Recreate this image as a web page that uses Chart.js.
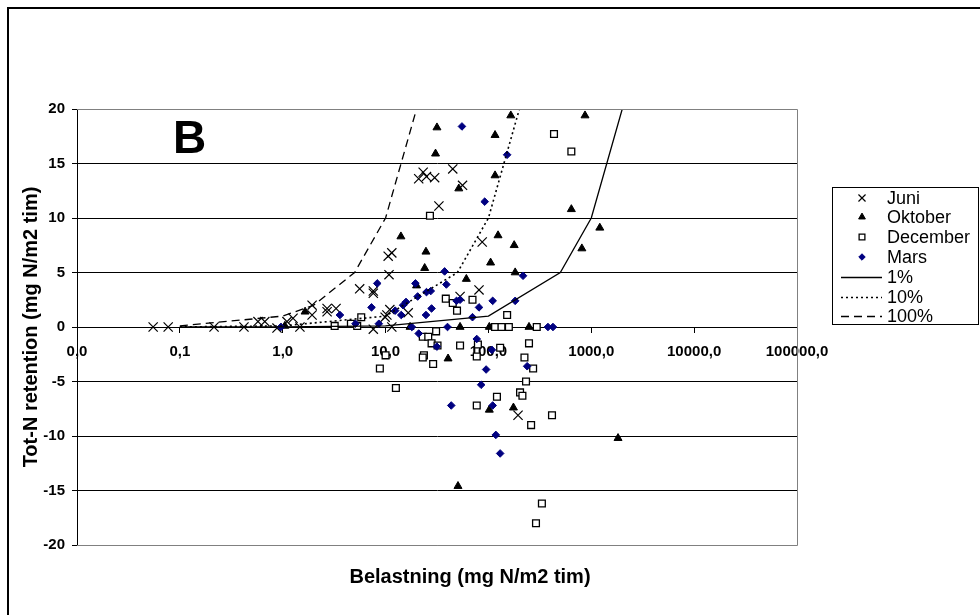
<!DOCTYPE html>
<html>
<head>
<meta charset="utf-8">
<script src="https://cdn.jsdelivr.net/npm/chart.js@4.4.1/dist/chart.umd.min.js"></script>
<style>
  html, body { margin: 0; padding: 0; background: #fff; }
</style>
</head>
<body>
<canvas id="retentionChart" width="980" height="615"></canvas>
<script>
// x axis ticks (log scale, decimal comma as in the original)
const xTickValues = [0.01, 0.1, 1, 10, 100, 1000, 10000, 100000];
const xTickLabels = ['0,0', '0,1', '1,0', '10,0', '100,0', '1000,0', '10000,0', '100000,0'];

// Juni
const juniX = [0.055, 0.077, 0.215, 0.42, 0.575, 0.67, 0.88, 1.1, 1.26, 1.47, 1.93, 1.93, 2.7, 2.7, 3.3, 5.6, 7.6, 7.6, 7.6, 9.9,
  10.3, 11.0, 11.5, 10.6, 11.5, 10.8, 16.6, 21, 23.2, 25, 30, 33, 45, 56, 53, 81, 87, 194];
const juniY = [0, 0, 0, 0, 0.5, 0.5, -0.1, 0.5, 0.8, 0, 1.1, 2.0, 1.4, 1.7, 1.7, 3.5, 3.1, 3.3, -0.2, 0.9,
  1.1, 1.6, 0, 6.5, 6.8, 4.8, 1.3, 13.6, 14.2, 13.8, 13.7, 11.1, 14.5, 13.0, 2.8, 3.4, 7.8, -8.1];

// Oktober
const oktoberX = [1.05, 1.65, 14.1, 17.3, 20, 24, 24.7, 30.6, 31.6, 40.5, 50.6, 51.5, 53, 61, 102, 102, 105, 116, 116, 124,
  165, 175, 178, 182, 248, 640, 810, 869, 1210, 1820];
const oktoberY = [0.1, 1.4, 8.3, 0, 3.8, 5.4, 6.9, 15.9, 18.3, -2.9, -14.6, 12.7, 0, 4.4, 0, -7.6, 5.9, 17.6, 13.9, 8.4,
  19.4, -7.4, 7.5, 5.0, 0, 10.8, 7.2, 19.4, 9.1, -10.2];

// December
const decemberX = [3.2, 4.6, 5.3, 5.8, 8.8, 10, 12.6, 23, 26, 28, 23.6, 23, 27, 29, 31, 32, 38.5, 45, 49.5, 53,
  70, 77, 77, 79, 116, 121, 130, 134, 152, 158, 203, 214, 224, 232, 248, 260, 272, 290, 295, 331, 415, 434, 640];
const decemberY = [0.1, 0.3, 0.1, 0.9, -3.8, -2.6, -5.6, -0.9, -0.9, -1.5, -2.6, -2.8, 10.2, -3.4, -0.4, -1.7, 2.6, 2.2, 1.5, -1.7,
  2.5, -2.7, -7.2, -1.6, 0, -6.4, -1.9, 0, 1.1, 0, -6.0, -6.3, -2.8, -5.0, -1.5, -9.0, -3.8, -18.0, 0, -16.2, -8.1, 17.7, 16.1];

// Mars
const marsX = [0.96, 3.6, 5.1, 7.3, 8.3, 8.6, 12.4, 14.2, 14.8, 15.8, 18, 19.5, 20.5, 21, 24.7, 25, 27.5, 28, 31.5, 37.5,
  39, 40, 43.5, 49, 53, 55.3, 70, 77, 81, 85, 92, 95, 108, 110, 110, 118, 130, 152, 182, 217, 238, 379, 424];
const marsY = [0, 1.1, 0.3, 1.8, 4.0, 0.3, 1.5, 1.1, 2.0, 2.3, 0, 4.0, 2.8, -0.6, 1.1, 3.2, 3.3, 1.7, -1.8, 5.1,
  3.9, 0, -7.2, 2.4, 2.5, 18.4, 0.9, -1.1, 1.8, -5.3, 11.5, -3.9, -2.1, 2.4, -7.2, -9.9, -11.6, 15.8, 2.4, 4.7, -3.6, 0, 0];

// reference lines: 1%, 10% and 100% retention
const pct1X = [0.1, 1, 10, 100, 500, 1000, 2000];
const pct1Y = [0.001, 0.01, 0.1, 1, 5, 10, 20];
const pct10X = [0.1, 1, 10, 50, 100, 200];
const pct10Y = [0.01, 0.1, 1, 5, 10, 20];
const pct100X = [0.1, 1, 2, 5, 10, 20];
const pct100Y = [0.1, 1, 2, 5, 10, 20];

function pts(xs, ys) {
  return xs.map((v, i) => ({ x: v, y: ys[i] }));
}

const datasets = [
  { label: 'Juni', data: pts(juniX, juniY), pointStyle: 'crossRot', pointRadius: 6.5,
    borderColor: '#000', backgroundColor: '#000', borderWidth: 1.2, order: 6 },
  { label: 'Oktober', data: pts(oktoberX, oktoberY), pointStyle: 'triangle', pointRadius: 4.6,
    borderColor: '#000', backgroundColor: '#000', borderWidth: 1, order: 5 },
  { label: 'December', data: pts(decemberX, decemberY), pointStyle: 'rect', pointRadius: 4.8,
    borderColor: '#000', backgroundColor: '#fff', borderWidth: 1.3, order: 4 },
  { label: 'Mars', data: pts(marsX, marsY), pointStyle: 'rectRot', pointRadius: 3.8,
    borderColor: '#000080', backgroundColor: '#000080', borderWidth: 1, order: 3 },
  { type: 'line', label: '1%', data: pts(pct1X, pct1Y), showLine: true, pointRadius: 0,
    borderColor: '#000', borderWidth: 1.3, borderDash: [], fill: false, order: 2 },
  { type: 'line', label: '10%', data: pts(pct10X, pct10Y), showLine: true, pointRadius: 0,
    borderColor: '#000', borderWidth: 1.6, borderDash: [2, 3], fill: false, order: 1 },
  { type: 'line', label: '100%', data: pts(pct100X, pct100Y), showLine: true, pointRadius: 0,
    borderColor: '#000', borderWidth: 1.3, borderDash: [8, 5], fill: false, order: 0 }
];

const FONT = "'Liberation Sans', Arial, sans-serif";

// frame, panel letter, x title, legend box
const decorations = {
  id: 'decorations',
  beforeDraw(chart) {
    const ctx = chart.ctx;
    ctx.save();
    ctx.fillStyle = '#fff';
    ctx.fillRect(0, 0, chart.width, chart.height);
    ctx.restore();
  },
  afterDraw(chart) {
    const ctx = chart.ctx;
    const a = chart.chartArea;
    ctx.save();

    // plot area border (grey) on top, right and bottom
    ctx.strokeStyle = '#808080';
    ctx.lineWidth = 1;
    ctx.beginPath();
    ctx.moveTo(a.left, a.top + 0.5);
    ctx.lineTo(a.right + 0.5, a.top + 0.5);
    ctx.lineTo(a.right + 0.5, a.bottom + 0.5);
    ctx.lineTo(a.left, a.bottom + 0.5);
    ctx.stroke();

    // outer frame
    ctx.strokeStyle = '#000';
    ctx.lineWidth = 2;
    ctx.beginPath();
    ctx.moveTo(8, chart.height);
    ctx.lineTo(8, 8);
    ctx.lineTo(chart.width, 8);
    ctx.stroke();

    // panel letter
    ctx.fillStyle = '#000';
    ctx.font = 'bold 46px ' + FONT;
    ctx.textAlign = 'left';
    ctx.textBaseline = 'alphabetic';
    ctx.fillText('B', 173, 153);

    // x axis title
    ctx.font = 'bold 20px ' + FONT;
    ctx.textAlign = 'center';
    ctx.fillText('Belastning (mg N/m2 tim)', 470, 583);

    // legend
    const lx = 832, ly = 187, lw = 147, lh = 138;
    ctx.fillStyle = '#fff';
    ctx.fillRect(lx, ly, lw, lh);
    ctx.strokeStyle = '#000';
    ctx.lineWidth = 1;
    ctx.strokeRect(lx + 0.5, ly + 0.5, lw - 1, lh - 1);

    const rowY = [198, 217, 237, 257, 277, 297, 316];
    ctx.font = '18px ' + FONT;
    ctx.textAlign = 'left';
    ctx.textBaseline = 'middle';
    datasets.forEach((ds, i) => {
      const y = rowY[i];
      ctx.save();
      ctx.strokeStyle = ds.borderColor;
      ctx.fillStyle = ds.backgroundColor;
      ctx.lineWidth = ds.borderWidth;
      if (ds.type === 'line') {
        ctx.setLineDash(ds.borderDash);
        ctx.beginPath();
        ctx.moveTo(841, y + 0.5);
        ctx.lineTo(882, y + 0.5);
        ctx.stroke();
      } else {
        const r = ds.pointStyle === 'crossRot' ? 5 : ds.pointRadius * 0.85;
        Chart.helpers.drawPoint(ctx, { pointStyle: ds.pointStyle, radius: r, rotation: 0, borderWidth: ds.borderWidth }, 862, y);
      }
      ctx.restore();
      ctx.fillStyle = '#000';
      ctx.fillText(ds.label, 887, y + 1);
    });

    ctx.restore();
  }
};

new Chart(document.getElementById('retentionChart'), {
  type: 'scatter',
  data: { datasets: datasets },
  options: {
    responsive: false,
    animation: false,
    events: [],
    devicePixelRatio: 1,
    layout: { padding: { left: 0, top: 109, right: 183, bottom: 70 } },
    plugins: {
      legend: { display: false },
      tooltip: { enabled: false }
    },
    scales: {
      x: {
        type: 'logarithmic',
        min: 0.01,
        max: 100000,
        position: { y: 0 },
        afterBuildTicks(scale) {
          scale.ticks = xTickValues.map(v => ({ value: v }));
        },
        ticks: {
          autoSkip: false,
          maxRotation: 0,
          padding: 11,
          color: '#000',
          font: { family: FONT, size: 15, weight: 'bold' },
          callback: (v, i) => xTickLabels[i]
        },
        grid: { drawOnChartArea: false, drawTicks: true, tickLength: 5, color: '#000' },
        border: { color: '#000', width: 1 }
      },
      y: {
        min: -20,
        max: 20,
        afterFit(scale) { scale.width = 77; },
        ticks: {
          stepSize: 5,
          padding: 7,
          color: '#000',
          font: { family: FONT, size: 15, weight: 'bold' }
        },
        grid: {
          color: c => (Math.abs(c.tick.value) === 20 ? '#808080' : '#000'),
          tickColor: '#000',
          tickLength: 5,
          lineWidth: 1
        },
        border: { color: '#000', width: 1 },
        title: {
          display: true,
          text: 'Tot-N retention (mg N/m2 tim)',
          color: '#000',
          font: { family: FONT, size: 20, weight: 'bold' },
          padding: { top: 19, bottom: 0 }
        }
      }
    }
  },
  plugins: [decorations]
});
</script>
</body>
</html>
